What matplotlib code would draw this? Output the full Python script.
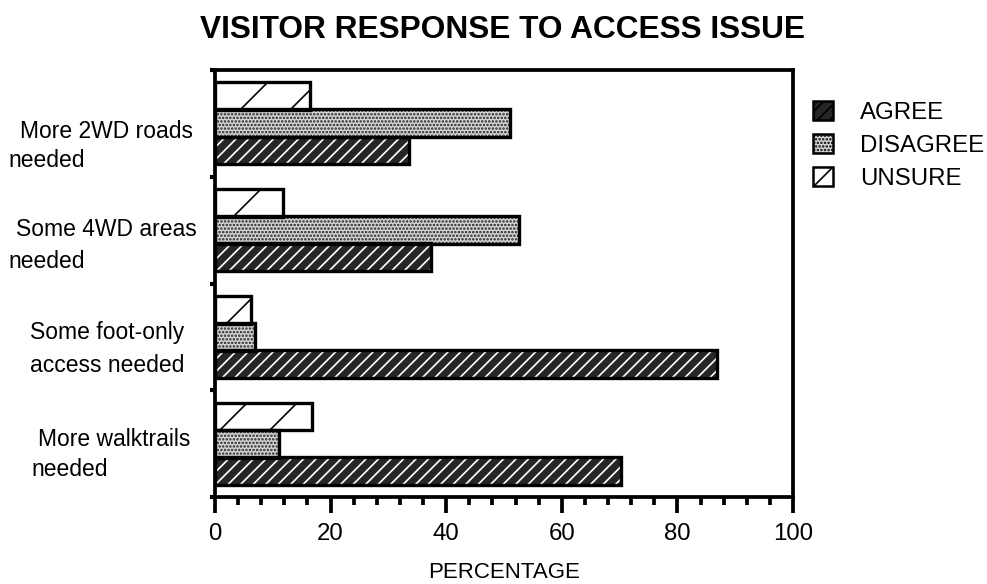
import matplotlib.pyplot as plt
from matplotlib.patches import Patch
from matplotlib.ticker import MultipleLocator
import numpy as np

plt.rcParams['font.family'] = ['Liberation Sans', 'DejaVu Sans']
plt.rcParams['hatch.linewidth'] = 0.8

# Survey results, top group first
categories = [
    ['More 2WD roads', 'needed'],
    ['Some 4WD areas', 'needed'],
    ['Some foot-only', 'access needed'],
    ['More walktrails', 'needed'],
]
agree = [33.6, 37.3, 86.8, 70.3]
disagree = [51.1, 52.6, 7.0, 11.1]
unsure = [16.4, 11.8, 6.2, 16.8]
series_names = ['AGREE', 'DISAGREE', 'UNSURE']
x_ticks = [0, 20, 40, 60, 80, 100]

W, H, DPI = 987, 584, 150
fig = plt.figure(figsize=(W / DPI, H / DPI), dpi=DPI)
fig.patch.set_facecolor('white')
ax = fig.add_axes([215 / W, 1 - 497 / H, (793 - 215) / W, (497 - 70) / H])

centers = np.arange(len(categories)) + 0.5
bh = 0.26
styles = {
    'AGREE': dict(face='#262626', hatch='////', hcolor='white'),
    'DISAGREE': dict(face='#d4d4d4', hatch='.......', hcolor='#222222'),
    'UNSURE': dict(face='white', hatch='/', hcolor='black'),
}

def hbar(vals, offset, name):
    st = styles[name]
    y = centers + offset
    # hatched fill first, then a plain black outline on top
    ax.barh(y, vals, height=bh, color=st['face'], hatch=st['hatch'],
            edgecolor=st['hcolor'], linewidth=0, zorder=2)
    ax.barh(y, vals, height=bh, fill=False, edgecolor='black',
            linewidth=1.6, zorder=3)

hbar(unsure, -0.255, 'UNSURE')
hbar(disagree, 0.0, 'DISAGREE')
hbar(agree, 0.255, 'AGREE')

ax.set_xlim(0, 100)
ax.set_ylim(len(categories), 0)
ax.set_xticks(x_ticks)
ax.xaxis.set_minor_locator(MultipleLocator(4))
ax.set_xticklabels([str(t) for t in x_ticks], fontsize=11.5)
ax.tick_params(axis='x', which='major', direction='out', length=7.5, width=1.8, pad=5)
ax.tick_params(axis='x', which='minor', direction='out', length=4, width=1.8)
ax.set_yticks(np.arange(len(categories) + 1))
ax.set_yticklabels([])
ax.tick_params(axis='y', direction='out', length=2.5, width=2)
for s in ax.spines.values():
    s.set_linewidth(1.8)

ax.set_xlabel('PERCENTAGE', fontsize=10.7, va='center')
ax.xaxis.set_label_coords(0.5, (497 - 572) / (497 - 70))
fig.text(503 / W, 1 - 30 / H, 'VISITOR RESPONSE TO ACCESS ISSUE',
         ha='center', va='center', fontsize=15.2, fontweight='bold')

# category labels, two lines each, set out to the left of the axis
label_pos = [
    [(106, 131), (47, 161)],
    [(106, 229), (47, 262)],
    [(107, 332), (107, 365)],
    [(114, 440), (70, 470)],
]
for lines, pos in zip(categories, label_pos):
    for txt, (px, py) in zip(lines, pos):
        fig.text(px / W, 1 - py / H, txt, ha='center', va='center', fontsize=11)

handles = [Patch(facecolor=styles[n]['face'], hatch=styles[n]['hatch'],
                 edgecolor='black', linewidth=1.2) for n in series_names]
leg = fig.legend(handles, series_names, loc='upper left',
                 bbox_to_anchor=(813 / W, 1 - 101 / H), frameon=False,
                 fontsize=11.5, handlelength=0.85, handleheight=0.85,
                 handletextpad=1.1, labelspacing=0.42, borderpad=0,
                 borderaxespad=0)

fig.savefig('out.png', dpi=DPI, facecolor='white')
